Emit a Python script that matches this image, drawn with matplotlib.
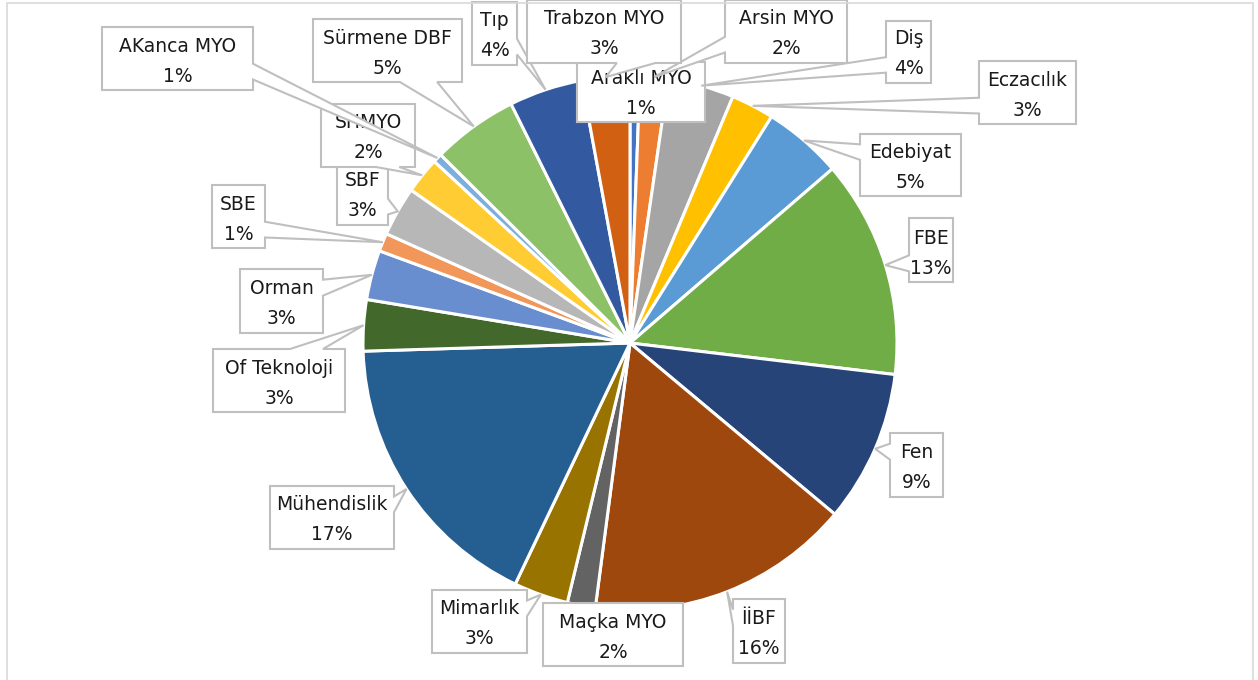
import matplotlib.pyplot as plt
from matplotlib.patches import Polygon, Rectangle
import numpy as np

# ---------------------------------------------------------------------------
# data (share per unit)
# ---------------------------------------------------------------------------
labels = ['Araklı MYO', 'Arsin MYO', 'Diş', 'Eczacılık', 'Edebiyat', 'FBE', 'Fen',
          'İİBF', 'Maçka MYO', 'Mimarlık', 'Mühendislik', 'Of Teknoloji', 'Orman',
          'SBE', 'SBF', 'SHMYO', 'AKanca MYO', 'Sürmene DBF', 'Tıp', 'Trabzon MYO']
values = [0.6, 1.7, 4.0, 2.6, 4.8, 13.2, 9.2,
          16.0, 1.7, 3.3, 17.45, 3.1, 3.0,
          1.1, 3.0, 2.2, 0.55, 5.2, 4.45, 2.9]
colors = ['#4472C4', '#ED7D31', '#A5A5A5', '#FFC000', '#5B9BD5', '#70AD47', '#264478',
          '#9E480E', '#636363', '#997300', '#255E91', '#43682B', '#698ED0',
          '#F1975A', '#B7B7B7', '#FFCD33', '#7CAFDD', '#8CC168', '#335AA1', '#D26012']

# ---------------------------------------------------------------------------
# layout (pixels, y down): label boxes x0, y0, x1, y1
# ---------------------------------------------------------------------------
W, H = 1258, 680
CX, CY, R = 630, 343, 267
boxes = [(577, 62, 705, 122), (725, 0, 847, 63), (886, 21, 931, 83), (979, 61, 1076, 124),
         (860, 134, 961, 196), (909, 218, 953, 282), (890, 433, 943, 497),
         (733, 599, 785, 663), (543, 603, 683, 666), (432, 590, 527, 653),
         (270, 486, 394, 549), (213, 349, 345, 412), (240, 269, 323, 333),
         (212, 185, 265, 248), (337, 162, 388, 225), (321, 104, 415, 167),
         (102, 27, 253, 90), (313, 19, 462, 82), (472, 2, 517, 65), (527, 0, 681, 63)]

FONT = 'DejaVu Sans'
FS = 13.5
TXT = '#1a1a1a'
EDGE = '#BFBFBF'


def callout_path(box, tip):
    # rectangle callout like Excel's wedgeRectCallout, pixel coords
    x0, y0, x1, y1 = box
    tx, ty = tip
    w, h = x1 - x0, y1 - y0
    hc, vc = (x0 + x1) / 2, (y0 + y1) / 2
    dx, dy = tx - hc, ty - vc
    if x0 <= tx <= x1 and y0 <= ty <= y1:
        return [(x0, y0), (x1, y0), (x1, y1), (x0, y1)]
    xa = x0 + w * (7 if dx > 0 else 2) / 12
    xb = x0 + w * (10 if dx > 0 else 5) / 12
    ya = y0 + h * (7 if dy > 0 else 2) / 12
    yb = y0 + h * (10 if dy > 0 else 5) / 12
    if abs(dy) - abs(dx) * h / w > 0:
        if dy < 0:
            return [(x0, y0), (xa, y0), (tx, ty), (xb, y0), (x1, y0), (x1, y1), (x0, y1)]
        return [(x0, y0), (x1, y0), (x1, y1), (xb, y1), (tx, ty), (xa, y1), (x0, y1)]
    if dx > 0:
        return [(x0, y0), (x1, y0), (x1, ya), (tx, ty), (x1, yb), (x1, y1), (x0, y1)]
    return [(x0, y0), (x1, y0), (x1, y1), (x0, y1), (x0, yb), (tx, ty), (x0, ya)]


fig = plt.figure(figsize=(W / 100, H / 100), dpi=100)
ax = fig.add_axes([0, 0, 1, 1])

wedges, _ = ax.pie(values, colors=colors, startangle=90, counterclock=False,
                   center=(CX, H - CY), radius=R,
                   wedgeprops=dict(edgecolor='white', linewidth=2.2))
ax.set_xlim(0, W)
ax.set_ylim(0, H)
ax.set_aspect('equal')
ax.axis('off')

total = sum(values)
for i, (wdg, lab, val, box) in enumerate(zip(wedges, labels, values, boxes)):
    mid = np.deg2rad((wdg.theta1 + wdg.theta2) / 2)
    tip = (CX + R * np.cos(mid), CY - R * np.sin(mid))
    pts = [(x, H - y) for x, y in callout_path(box, tip)]
    z = 10 + i * 2
    ax.add_patch(Polygon(pts, closed=True, facecolor='white', edgecolor=EDGE,
                         linewidth=1.5, zorder=z))
    hc = (box[0] + box[2]) / 2
    ax.text(hc, H - (box[3] - 44), lab, ha='center', va='center', fontsize=FS,
            family=FONT, color=TXT, zorder=z + 1)
    ax.text(hc, H - (box[3] - 14), f'{round(val / total * 100)}%', ha='center',
            va='center', fontsize=FS, family=FONT, color=TXT, zorder=z + 1)

# chart area border
ax.add_patch(Rectangle((7, -5), 1246, H - 3 + 5, facecolor='none', edgecolor='#D9D9D9',
                       linewidth=1.2, zorder=100))

fig.savefig('out.png', dpi=100)
